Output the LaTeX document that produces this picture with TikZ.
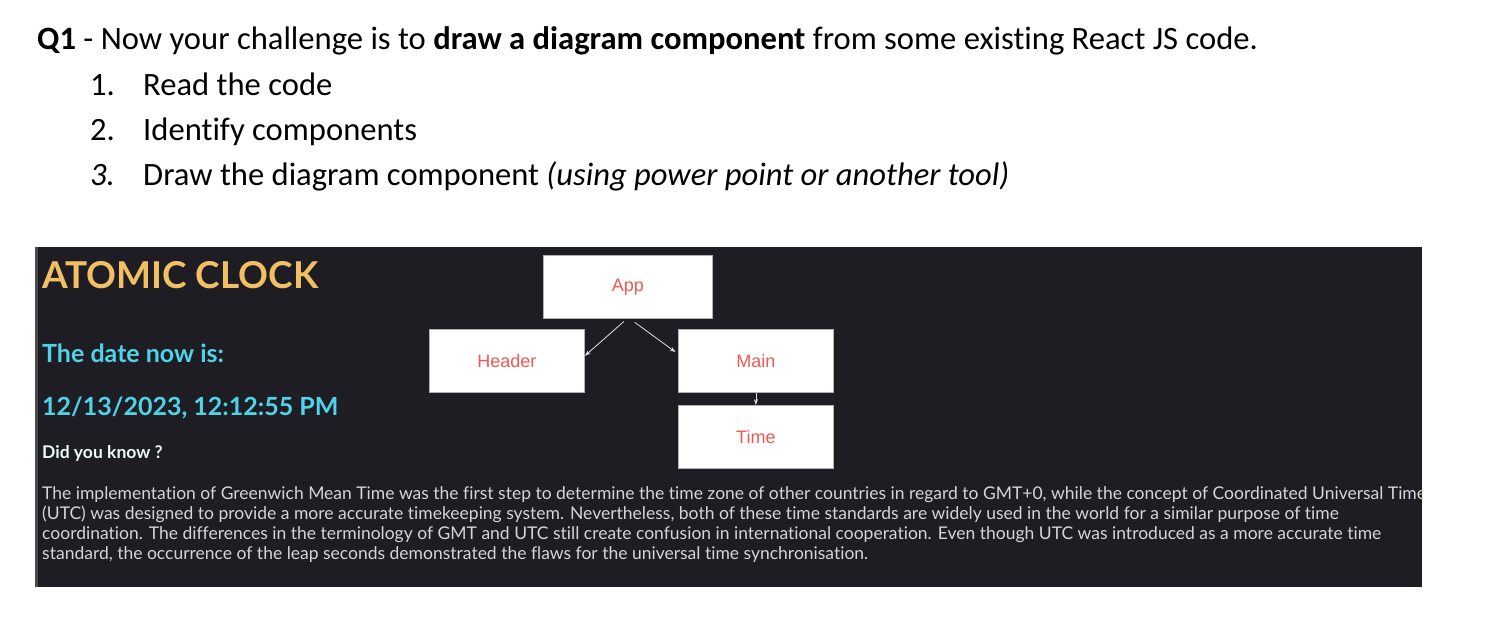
\documentclass[tikz,border=0pt]{standalone}
\usepackage{fontspec}
\setmainfont[Ligatures=NoCommon]{Carlito}
\newfontfamily\panelfont[Ligatures=NoCommon]{Lato}
\newfontfamily\boxfont{Liberation Sans}
\usetikzlibrary{arrows.meta,calc}
\definecolor{panelbg}{HTML}{1E1D23}
\definecolor{gold}{HTML}{F2C063}
\definecolor{cyanish}{HTML}{4FD3E8}
\definecolor{paratext}{HTML}{D6D3DC}
\definecolor{boxred}{HTML}{EC5A52}
\definecolor{arrowgray}{HTML}{E0E0E0}
\tikzset{
  x=1pt,y=-1pt,
  plain/.style={anchor=base west,inner sep=0pt,font=\fontsize{32.6}{38}\selectfont},
  compbox/.style={draw=gray!60,fill=white,line width=0.8pt,anchor=north west,inner sep=0pt,
    minimum width=155pt,minimum height=63pt,text=boxred,font=\boxfont\fontsize{18}{22}\selectfont},
  link/.style={draw=arrowgray,line width=0.8pt,-{Stealth[length=6pt,width=4pt]}},
  para/.style={anchor=base west,inner sep=0pt,text=paratext,font=\panelfont\fontsize{17.5}{20}\selectfont}
}
\begin{document}
\begin{tikzpicture}
\useasboundingbox[fill=white] (0,0) rectangle (1506,620);
% instructions
\node[plain] (q1) at (37,50) {\textbf{Q1} - Now your challenge is to \textbf{draw a diagram component} from some existing React JS code.};
\node[plain] (n1) at (90,96) {1.};
\node[plain] (t1) at (143,96) {Read the code};
\node[plain] (n2) at (90,141) {2.};
\node[plain] (t2) at (143,141) {Identify components};
\node[plain] (n3) at (90,186) {\textit{3.}};
\node[plain] (t3) at (143,186) {Draw the diagram component \textit{(using power point or another tool)}};
% panel
\fill[panelbg] (35,247) rectangle (1422,587);
\fill[gray!45!panelbg] (35,247) rectangle (38,587);
\node[anchor=base west,inner sep=0pt,text=gold,font=\panelfont\bfseries\fontsize{37}{42}\selectfont] (title) at (42,288) {ATOMIC CLOCK};
\node[anchor=base west,inner sep=0pt,text=cyanish,font=\panelfont\bfseries\fontsize{25}{30}\selectfont] (date) at (42,362) {The date now is:};
\node[anchor=base west,inner sep=0pt,text=cyanish,font=\panelfont\bfseries\fontsize{25}{30}\selectfont] (stamp) at (42,415) {12/13/2023, 12:12:55 PM};
\node[anchor=base west,inner sep=0pt,text=white!90!cyanish,font=\panelfont\bfseries\fontsize{17.5}{20}\selectfont] (dyk) at (42,458) {Did you know ?};
\begin{scope}
\clip (35,247) rectangle (1422,587);
\node[para] (p1) at (42,499) {The implementation of Greenwich Mean Time was the first step to determine the time zone of other countries in regard to GMT+0, while the concept of Coordinated Universal Time};
\end{scope}
\node[para] (p2) at (42,519) {(UTC) was designed to provide a more accurate timekeeping system. Nevertheless, both of these time standards are widely used in the world for a similar purpose of time};
\node[para] (p3) at (42,539) {coordination. The differences in the terminology of GMT and UTC still create confusion in international cooperation. Even though UTC was introduced as a more accurate time};
\node[para] (p4) at (42,559) {standard, the occurrence of the leap seconds demonstrated the flaws for the universal time synchronisation.};
% component boxes
\node[compbox,minimum width=169pt] (app) at (543,255) {App};
\node[compbox] (header) at (429,329) {Header};
\node[compbox] (main) at (678,329) {Main};
\node[compbox] (time) at (678,405) {Time};
% connectors
\draw[link,shorten <=4pt] ($(app.south)+(-1,0)$) -- ($(header.east)+(0,-5)$);
\draw[link,shorten <=6pt,shorten >=3pt] ($(app.south)+(2,0)$) -- ($(main.west)+(0,-7)$);
\draw[link] (main.south) -- (time.north);
\end{tikzpicture}
\end{document}
